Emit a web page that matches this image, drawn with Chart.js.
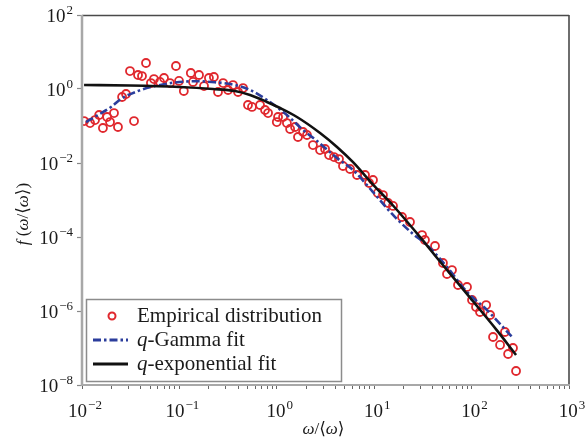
<!DOCTYPE html>
<html>
<head>
<meta charset="utf-8">
<script src="https://cdn.jsdelivr.net/npm/chart.js@4"></script>
<style>
  html, body { margin: 0; padding: 0; background: #fff; }
  canvas { display: block; }
</style>
</head>
<body>
<canvas id="c" width="585" height="443"></canvas>
<script>
// ---- data ----
const empX = [0.0105,0.0121,0.0136,0.0150,0.0164,0.0181,0.0194,0.0213,0.0234,0.0258,
  0.0283,0.0311,0.0342,0.0376,0.0413,0.0454,0.0510,0.0548,0.0632,0.0695,
  0.0800,0.0922,0.0991,0.111,0.131,0.138,0.159,0.179,0.201,0.226,
  0.249,0.281,0.316,0.355,0.400,0.450,0.506,0.556,0.673,0.757,
  0.813,1.00,1.03,1.16,1.27,1.37,1.54,1.65,1.86,2.04,
  2.35,2.78,3.13,3.44,3.87,4.35,4.78,5.65,6.66,8.05,
  8.85,9.72,10.9,12.3,13.9,15.6,19.3,23.3,31.0,33.2,
  42.1,50.8,55.9,62.9,72.5,89.7,101,111,122,141,
  155,166,196,220,237,266,286];
const empY = [0.136,0.120,0.145,0.198,0.0883,0.175,0.128,0.224,0.094,0.608,
  0.733,3.06,0.136,2.39,2.24,5.05,1.45,1.86,1.55,1.98,
  1.45,4.19,1.65,0.883,2.71,1.55,2.39,1.20,1.98,2.11,
  0.830,1.45,0.940,1.28,0.830,1.06,0.370,0.327,0.370,0.271,
  0.224,0.128,0.175,0.175,0.120,0.083,0.094,0.0505,0.0689,0.0571,
  0.0306,0.0224,0.0239,0.0164,0.0145,0.0128,0.0083,0.00689,0.00474,0.00474,
  0.00288,0.00347,0.00155,0.00136,0.00083,0.00069,0.000347,0.000254,0.000113,8.3e-5,
  5.71e-5,1.98e-5,1.0e-5,1.28e-5,5.04e-6,4.45e-6,1.98e-6,1.28e-6,9.4e-7,1.45e-6,
  7.8e-7,1.98e-7,1.21e-7,2.71e-7,6.89e-8,1.0e-7,2.39e-8];

const gamX = [0.0110,0.0146,0.0199,0.0251,0.0376,0.0561,0.0901,0.145,0.232,0.372,
  0.531,0.792,1.27,1.86,2.59,4.15,6.06,9.72,15.6,25.0,34.8,55.9,89.7,144,266];
const gamY = [0.128,0.198,0.327,0.537,0.883,1.20,1.50,1.62,1.52,1.28,
  0.940,0.505,0.198,0.078,0.0394,0.0136,0.00647,0.00164,3.94e-4,1.21e-4,
  6.08e-5,1.55e-5,3.27e-6,1.06e-6,1.86e-7];

const expX = [0.0105,0.0311,0.101,0.221,0.372,0.531,0.792,1.08,1.61,2.78,
  4.15,6.06,9.72,15.6,31.7,44.2,96.3,182,286];
const expY = [1.28,1.24,1.13,1.0,0.883,0.689,0.446,0.306,0.175,0.0647,
  0.0271,0.0105,0.00262,7.1e-4,8.0e-5,2.71e-5,2.3e-6,3.0e-7,6.47e-8];

const xTickExponents = [-2,-1,0,1,2,3];
const yTickExponents = [-8,-6,-4,-2,0,2];
const seriesLabels = ['Empirical distribution','q-Gamma fit','q-exponential fit'];
const xTitle = 'ω/⟨ω⟩';
const yTitle = 'f (ω/⟨ω⟩)';

// ---- styling ----
const SERIF = '"Liberation Serif", "DejaVu Serif", serif';
const RED = '#e0282e', BLUE = '#2b3d9c', BLACK = '#111111';
const GAM_DASH = [8,3,2.5,3];

const zip = (xs, ys) => xs.map((x,i) => ({x, y: ys[i]}));

function drawPow(ctx, exp, x, y, align) {
  const base = '10';
  const e = (exp < 0 ? '\u2212' : '') + Math.abs(exp);
  ctx.font = '19px ' + SERIF; const wb = ctx.measureText(base).width;
  ctx.font = '13px ' + SERIF; const we = ctx.measureText(e).width;
  const x0 = align === 'right' ? x - wb - we - 1 : x - (wb + we + 1) / 2;
  ctx.textAlign = 'left'; ctx.textBaseline = 'alphabetic';
  ctx.font = '19px ' + SERIF; ctx.fillText(base, x0, y);
  ctx.font = '13px ' + SERIF; ctx.fillText(e, x0 + wb + 1, y - 8);
}

// text runs: mixes italic and upright pieces
function runsOf(str, size) {
  const runs = [];
  for (const ch of str) {
    const it = /[a-zA-Zω]/.test(ch);
    const font = (it ? 'italic ' : '') + size + 'px ' + SERIF;
    if (runs.length && runs[runs.length-1].font === font) runs[runs.length-1].t += ch;
    else runs.push({t: ch, font});
  }
  return runs;
}
function drawRuns(ctx, runs, x, y, align) {
  let w = 0;
  runs.forEach(r => { ctx.font = r.font; r.w = ctx.measureText(r.t).width; w += r.w; });
  let cx = align === 'center' ? x - w/2 : x;
  ctx.textAlign = 'left';
  runs.forEach(r => { ctx.font = r.font; ctx.fillText(r.t, cx, y); cx += r.w; });
}

const decor = {
  id: 'decor',
  beforeDraw(chart) {
    const ctx = chart.ctx;
    ctx.save(); ctx.fillStyle = '#fff'; ctx.fillRect(0,0,chart.width,chart.height); ctx.restore();
  },
  afterDraw(chart) {
    const ctx = chart.ctx, a = chart.chartArea;
    const xs = chart.scales.x, ys = chart.scales.y;
    ctx.save();
    // frame
    ctx.strokeStyle = '#4a4a4a'; ctx.lineWidth = 1.3;
    ctx.beginPath(); ctx.moveTo(a.left, a.top + 0.5); ctx.lineTo(a.right, a.top + 0.5); ctx.stroke();
    ctx.lineWidth = 1.6;
    ctx.beginPath(); ctx.moveTo(a.right, a.top); ctx.lineTo(a.right, a.bottom); ctx.stroke();
    ctx.strokeStyle = '#a8a8a8'; ctx.lineWidth = 2.5;
    ctx.beginPath(); ctx.moveTo(a.left, a.top); ctx.lineTo(a.left, a.bottom + 1); ctx.stroke();
    ctx.lineWidth = 2;
    ctx.beginPath(); ctx.moveTo(a.left, a.bottom); ctx.lineTo(a.right + 1, a.bottom); ctx.stroke();

    // tick labels
    ctx.fillStyle = '#1a1a1a';
    yTickExponents.forEach(e => drawPow(ctx, e, 73, ys.getPixelForValue(Math.pow(10, e)) + 7, 'right'));
    xTickExponents.forEach(e => drawPow(ctx, e, xs.getPixelForValue(Math.pow(10, e)) + 3, 417, 'center'));

    // axis titles
    ctx.textBaseline = 'alphabetic';
    drawRuns(ctx, runsOf(xTitle, 17), (a.left + a.right)/2 - 2, 434, 'center');
    ctx.save();
    ctx.translate(28, 214); ctx.rotate(-Math.PI/2);
    drawRuns(ctx, runsOf(yTitle, 17), 0, 0, 'center');
    ctx.restore();

    // legend
    const L = 86, T = 299, W = 255, H = 82;
    ctx.fillStyle = '#fff'; ctx.fillRect(L, T, W, H);
    ctx.strokeStyle = '#8c8c8c'; ctx.lineWidth = 1.5; ctx.strokeRect(L + 0.5, T + 0.5, W, H);
    const rows = [316, 340, 364];
    const ds = chart.data.datasets;
    // row 1 marker
    ctx.strokeStyle = RED; ctx.lineWidth = 2;
    ctx.beginPath(); ctx.arc(112, rows[0], 3.5, 0, Math.PI*2); ctx.stroke();
    // row 2 dash-dot
    ctx.strokeStyle = BLUE; ctx.lineWidth = 3; ctx.setLineDash(GAM_DASH);
    ctx.beginPath(); ctx.moveTo(93, rows[1]); ctx.lineTo(128, rows[1]); ctx.stroke();
    ctx.setLineDash([]);
    // row 3 solid
    ctx.strokeStyle = BLACK; ctx.lineWidth = 3.2;
    ctx.beginPath(); ctx.moveTo(93, rows[2]); ctx.lineTo(128, rows[2]); ctx.stroke();
    ctx.fillStyle = '#1a1a1a';
    ds.forEach((d, i) => {
      const lbl = d.label;
      const runs = [];
      if (lbl.startsWith('q-')) {
        runs.push({t: 'q', font: 'italic 21px ' + SERIF});
        runs.push({t: lbl.slice(1), font: '21px ' + SERIF});
      } else runs.push({t: lbl, font: '21px ' + SERIF});
      drawRuns(ctx, runs, 137, rows[i] + 6, 'left');
    });
    ctx.restore();
  }
};

new Chart(document.getElementById('c'), {
  data: {
    datasets: [
      { type: 'scatter', label: seriesLabels[0], data: zip(empX, empY), order: 2,
        pointStyle: 'circle', pointRadius: 4, pointBorderWidth: 1.8,
        pointBorderColor: RED, pointBackgroundColor: 'rgba(0,0,0,0)',
        borderColor: RED, backgroundColor: 'rgba(0,0,0,0)' },
      { type: 'line', label: seriesLabels[1], data: zip(gamX, gamY), order: 1,
        borderColor: BLUE, borderWidth: 2.6, borderDash: GAM_DASH, pointRadius: 0,
        cubicInterpolationMode: 'monotone', fill: false },
      { type: 'line', label: seriesLabels[2], data: zip(expX, expY), order: 0,
        borderColor: BLACK, borderWidth: 2.6, pointRadius: 0,
        cubicInterpolationMode: 'monotone', fill: false }
    ]
  },
  options: {
    responsive: false, animation: false, devicePixelRatio: 1,
    layout: { padding: { left: 0, right: 16, top: 15, bottom: 0 } },
    plugins: { legend: { display: false }, tooltip: { enabled: false } },
    scales: {
      x: {
        type: 'logarithmic', min: 0.01, max: 1000,
        afterBuildTicks: s => {
          const t = [];
          xTickExponents.forEach((e, i) => {
            if (i === xTickExponents.length - 1) { t.push({value: Math.pow(10, e)}); return; }
            for (let m = 1; m <= 9; m++) t.push({value: m * Math.pow(10, e)});
          });
          s.ticks = t;
        },
        afterFit: s => { s.height = 58; },
        ticks: { display: false, autoSkip: false },
        border: { display: false },
        grid: { drawOnChartArea: false, drawTicks: true, tickLength: 4,
                tickColor: '#666', tickWidth: 1 }
      },
      y: {
        type: 'logarithmic', min: 1e-8, max: 100,
        afterBuildTicks: s => { s.ticks = yTickExponents.map(e => ({value: Math.pow(10, e)})); },
        afterFit: s => { s.width = 82; },
        ticks: { display: false, autoSkip: false },
        border: { display: false },
        grid: { drawOnChartArea: false, drawTicks: true, tickLength: 5,
                tickColor: '#888', tickWidth: 1.2 }
      }
    }
  },
  plugins: [decor]
});
</script>
</body>
</html>
